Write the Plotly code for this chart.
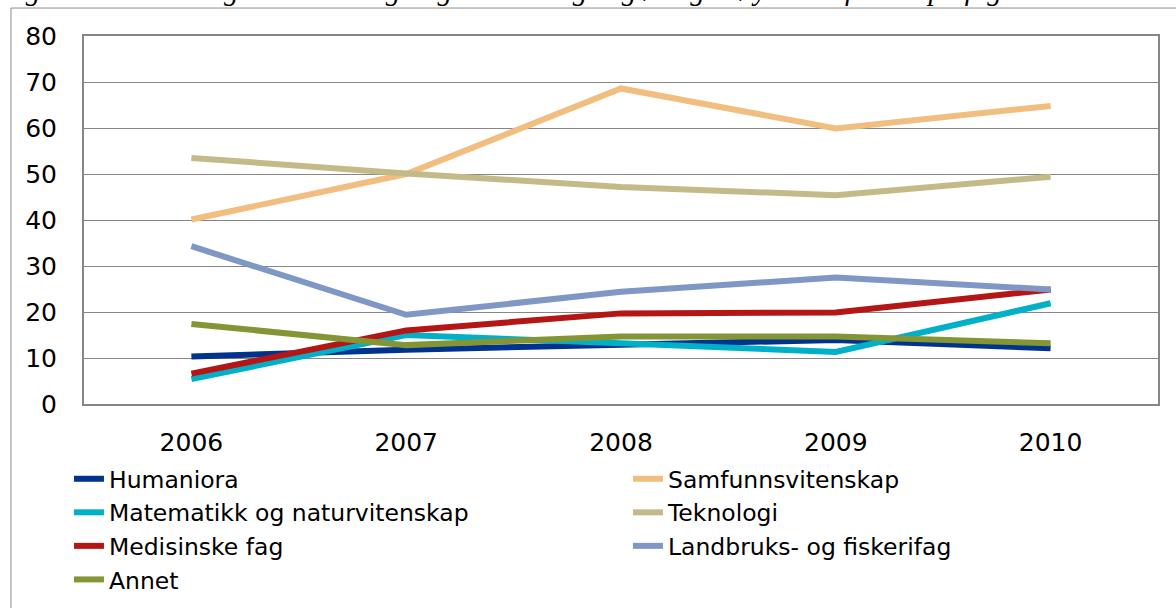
import plotly.graph_objects as go

# Data (mill. kr)
years = ["2006", "2007", "2008", "2009", "2010"]
humaniora = [10.3, 11.8, 12.9, 13.9, 12.1]
samfunnsvitenskap = [40.1, 50.0, 68.6, 59.9, 64.8]
matematikk = [5.4, 15.0, 13.2, 11.3, 21.9]
teknologi = [53.5, 50.1, 47.2, 45.4, 49.4]
medisinske = [6.6, 16.0, 19.7, 19.9, 24.9]
landbruk = [34.3, 19.4, 24.4, 27.5, 24.9]
annet = [17.4, 12.8, 14.7, 14.7, 13.2]

series = [
    ("Humaniora", humaniora, "#00338D"),
    ("Samfunnsvitenskap", samfunnsvitenskap, "#F2BE80"),
    ("Matematikk og naturvitenskap", matematikk, "#00B0C8"),
    ("Teknologi", teknologi, "#C4BA88"),
    ("Medisinske fag", medisinske, "#B41616"),
    ("Landbruks- og fiskerifag", landbruk, "#7F97C5"),
    ("Annet", annet, "#849535"),
]

FONT = "DejaVu Sans, Verdana, sans-serif"

fig = go.Figure()
for name, vals, color in series:
    fig.add_trace(go.Scatter(
        x=years, y=vals, mode="lines", name=name,
        line=dict(color=color, width=6),
    ))

# plot area in pixels: left 84, right 1158, top 36, bottom 404
fig.update_layout(
    width=1176, height=608,
    margin=dict(l=84, r=18, t=36, b=204, autoexpand=False),
    paper_bgcolor="white", plot_bgcolor="white",
    font=dict(family=FONT, size=24, color="black"),
    showlegend=True,
    legend=dict(
        orientation="h",
        x=-0.014, xanchor="left",
        y=-0.144, yanchor="top",
        entrywidth=514,
        font=dict(size=23.5, family=FONT),
        bgcolor="rgba(0,0,0,0)",
        traceorder="normal",
    ),
)

fig.update_xaxes(
    type="category", range=[-0.5, 4.5], showgrid=False, zeroline=False,
    showline=True, linecolor="#868686", linewidth=2, mirror=True,
    ticks="", ticklabelstandoff=15,
    tickfont=dict(size=25, family=FONT),
)
fig.update_yaxes(
    range=[0, 80], dtick=10, showgrid=True, gridcolor="#868686", gridwidth=1,
    zeroline=False, showline=True, linecolor="#868686", linewidth=2, mirror=True,
    ticks="", ticklabelstandoff=20,
    tickfont=dict(size=25, family=FONT),
)

# outer chart frame (left and top edge visible only)
fig.add_shape(type="rect", xref="paper", yref="paper",
              x0=-0.068, x1=1.2, y0=-1.0, y1=1.076,
              line=dict(color="#8C8C8C", width=1), layer="below")

# caption from the page above, mostly cut off at the top edge
fig.add_annotation(
    text="Figur 14: Forskningsrådets bevilgninger til statlige og øvrige høyskoler fordelt på fagområder. Mill. kr",
    xref="paper", yref="paper", x=-0.081, y=1.076,
    xanchor="left", yanchor="bottom", showarrow=False,
    font=dict(family="Liberation Serif, Times New Roman, serif", size=29,
              color="black", style="italic"),
)

# no page margin, so the figure fills the window from its top-left corner
fig.write_html("out.html", config={"displayModeBar": False},
               post_script="document.body.style.margin='0';")
